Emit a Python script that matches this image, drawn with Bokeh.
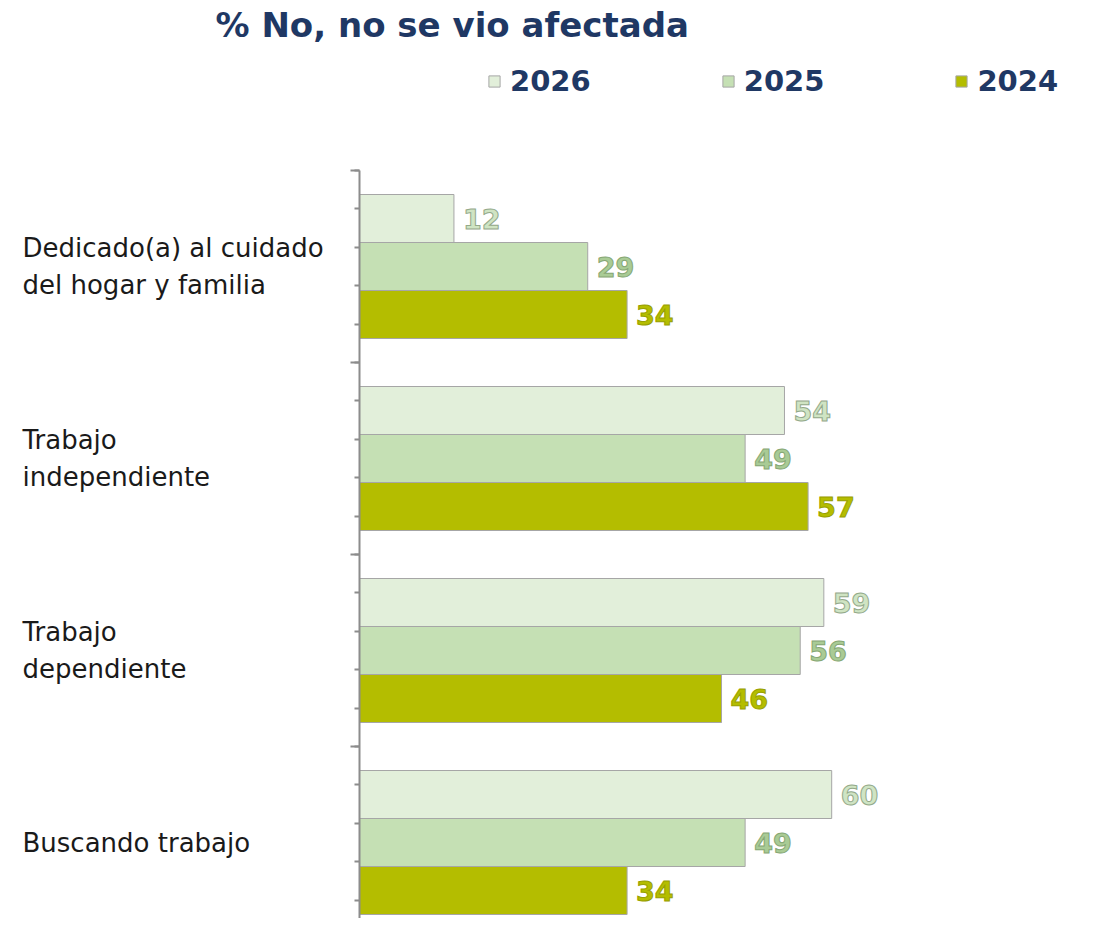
from bokeh.plotting import figure
from bokeh.models import (ColumnDataSource, Range1d, FixedTicker, LabelSet, Label,
                          Legend, LegendItem)
from bokeh.core.properties import value
from bokeh.embed import file_html
from bokeh.resources import INLINE

# ---- data ----
categories = ["Dedicado(a) al cuidado\ndel hogar y familia",
              "Trabajo\nindependiente",
              "Trabajo\ndependiente",
              "Buscando trabajo"]
years = ["2026", "2025", "2024"]
v2026 = [12, 54, 59, 60]
v2025 = [29, 49, 56, 49]
v2024 = [34, 57, 46, 34]
title_text = "% No, no se vio afectada"

# ---- styles ----
fills = {"2026": "#e2efda", "2025": "#c5e0b4", "2024": "#b4bd00"}
lbl_fill = {"2026": "#cfe4c3", "2025": "#a9cb95", "2024": "#b4bd00"}
lbl_line = {"2026": "#93a98a", "2025": "#86a774", "2024": "#98a000"}
navy = "#1f3864"
FONT = "DejaVu Sans"
NUMFONT = "DejaVu Sans"

W, H = 1078, 918
frame_left = 20
axis_x = 359
px_per_unit = 7.87
x_start = -(axis_x - frame_left) / px_per_unit
x_end = (W - axis_x) / px_per_unit
group_px = 192.0
axis_top = 170
y_top = 4 + axis_top / group_px
y_bot = 4 - (H - axis_top) / group_px

def xd(px):
    return (px - axis_x) / px_per_unit

def yd(py):
    return 4 + (axis_top - py) / group_px

p = figure(width=W, height=H, output_backend="svg", toolbar_location=None,
           x_range=Range1d(x_start, x_end), y_range=Range1d(y_bot, y_top),
           x_axis_location=None, min_border_left=frame_left,
           min_border_right=0, min_border_top=0, min_border_bottom=0)
p.outline_line_color = None
p.xgrid.visible = False
p.ygrid.visible = False
p.background_fill_color = "white"

n = len(categories)
centers = [n - 0.5 - i for i in range(n)]
offsets = {"2026": 0.25, "2025": 0.0, "2024": -0.25}
series = {"2026": v2026, "2025": v2025, "2024": v2024}

legend_items = []
for yr in years:
    ys = [c + offsets[yr] for c in centers]
    src = ColumnDataSource(dict(y=ys, v=series[yr], t=[str(x) for x in series[yr]]))
    r = p.hbar(y="y", left=0, right="v", height=0.25, source=src,
               fill_color=fills[yr], line_color="#a6a6a6", line_width=1)
    p.text(x="v", y="y", text="t", source=src, x_offset=9,
           text_font=value(NUMFONT), text_font_style="bold", text_font_size="27px",
           text_color=lbl_fill[yr], text_outline_color=lbl_line[yr],
           text_baseline="middle", text_align="left")
    legend_items.append(LegendItem(label=yr, renderers=[r]))

# y axis
major = [0, 1, 2, 3, 4]
yax = p.yaxis[0]
yax.fixed_location = 0
yax.ticker = FixedTicker(ticks=major,
                         minor_ticks=[i * 0.2 for i in range(0, 21)])
yax.bounds = (0, 4)
yax.major_label_overrides = {t: "" for t in major}
yax.axis_line_color = "#8c8c8c"
yax.axis_line_width = 2
yax.major_tick_line_color = "#8c8c8c"
yax.major_tick_line_width = 2
yax.minor_tick_line_color = "#8c8c8c"
yax.minor_tick_line_width = 2
yax.major_tick_out = 9
yax.major_tick_in = 0
yax.minor_tick_out = 5
yax.minor_tick_in = 0

# category labels
cat_src = ColumnDataSource(dict(x=[xd(22)] * n, y=centers, t=categories))
p.add_layout(LabelSet(x="x", y="y", text="t", source=cat_src,
                      text_font=value(FONT), text_font_size="26px",
                      text_color="#1a1a1a", text_align="left",
                      text_baseline="middle", text_line_height=1.22))

# title
p.add_layout(Label(x=xd(215), y=yd(24), text=title_text, text_font=FONT,
                   text_font_style="bold", text_font_size="34px",
                   text_color=navy, text_align="left", text_baseline="middle"))

# legend
leg = Legend(items=legend_items, orientation="horizontal",
             location=(487 - frame_left, H - 98), margin=0, padding=0,
             spacing=130, glyph_width=14, glyph_height=14, label_standoff=9,
             label_text_font=NUMFONT, label_text_font_style="bold",
             label_text_font_size="29px", label_text_color=navy,
             border_line_color=None, background_fill_alpha=0)
p.add_layout(leg)

open("out.html", "w").write(file_html(p, INLINE))
